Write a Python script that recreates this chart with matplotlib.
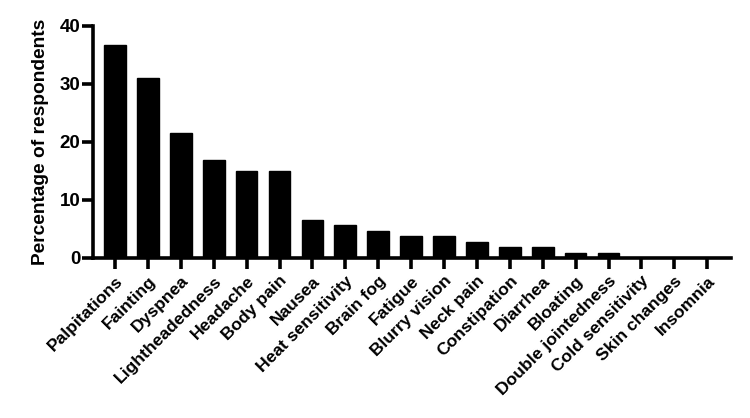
import matplotlib
matplotlib.use("Agg")
import matplotlib.pyplot as plt

categories = ["Palpitations", "Fainting", "Dyspnea", "Lightheadedness", "Headache",
              "Body pain", "Nausea", "Heat sensitivity", "Brain fog", "Fatigue",
              "Blurry vision", "Neck pain", "Constipation", "Diarrhea", "Bloating",
              "Double jointedness", "Cold sensitivity", "Skin changes", "Insomnia"]
values = [36.7, 31.1, 21.6, 16.9, 15.0, 15.0, 6.6, 5.6, 4.7, 3.7, 3.7, 2.8,
          1.9, 1.9, 0.9, 0.9, 0.0, 0.0, 0.0]
yticks = [0, 10, 20, 30, 40]

plt.rcParams['font.family'] = ['Liberation Sans', 'DejaVu Sans']
plt.rcParams['font.weight'] = 'bold'

fig = plt.figure(figsize=(7.5, 4.18), dpi=100)
ax = fig.add_axes([0.124, 0.383, 0.851, 0.555])
x = list(range(len(categories)))
ax.bar(x, values, width=0.66, color='black', edgecolor='black', zorder=3)
ax.set_xlim(-0.67, len(categories) - 1 + 0.73)
ax.set_ylim(0, 40)
ax.set_yticks(yticks)
ax.set_yticklabels([str(t) for t in yticks], fontsize=13.5, fontweight='bold')
ax.set_xticks(x)
ax.set_xticklabels(categories, rotation=45, ha='right', rotation_mode='anchor',
                   fontsize=12.6, fontweight='bold')
ax.set_ylabel("Percentage of respondents", fontsize=13.8, fontweight='bold', labelpad=8)
for s in ['top', 'right']:
    ax.spines[s].set_visible(False)
for s in ['left', 'bottom']:
    ax.spines[s].set_linewidth(2.6)
ax.tick_params(axis='both', width=2.6, length=8, direction='out')
ax.tick_params(axis='x', pad=3)
ax.tick_params(axis='y', pad=1)
fig.savefig("out.png", dpi=100)
